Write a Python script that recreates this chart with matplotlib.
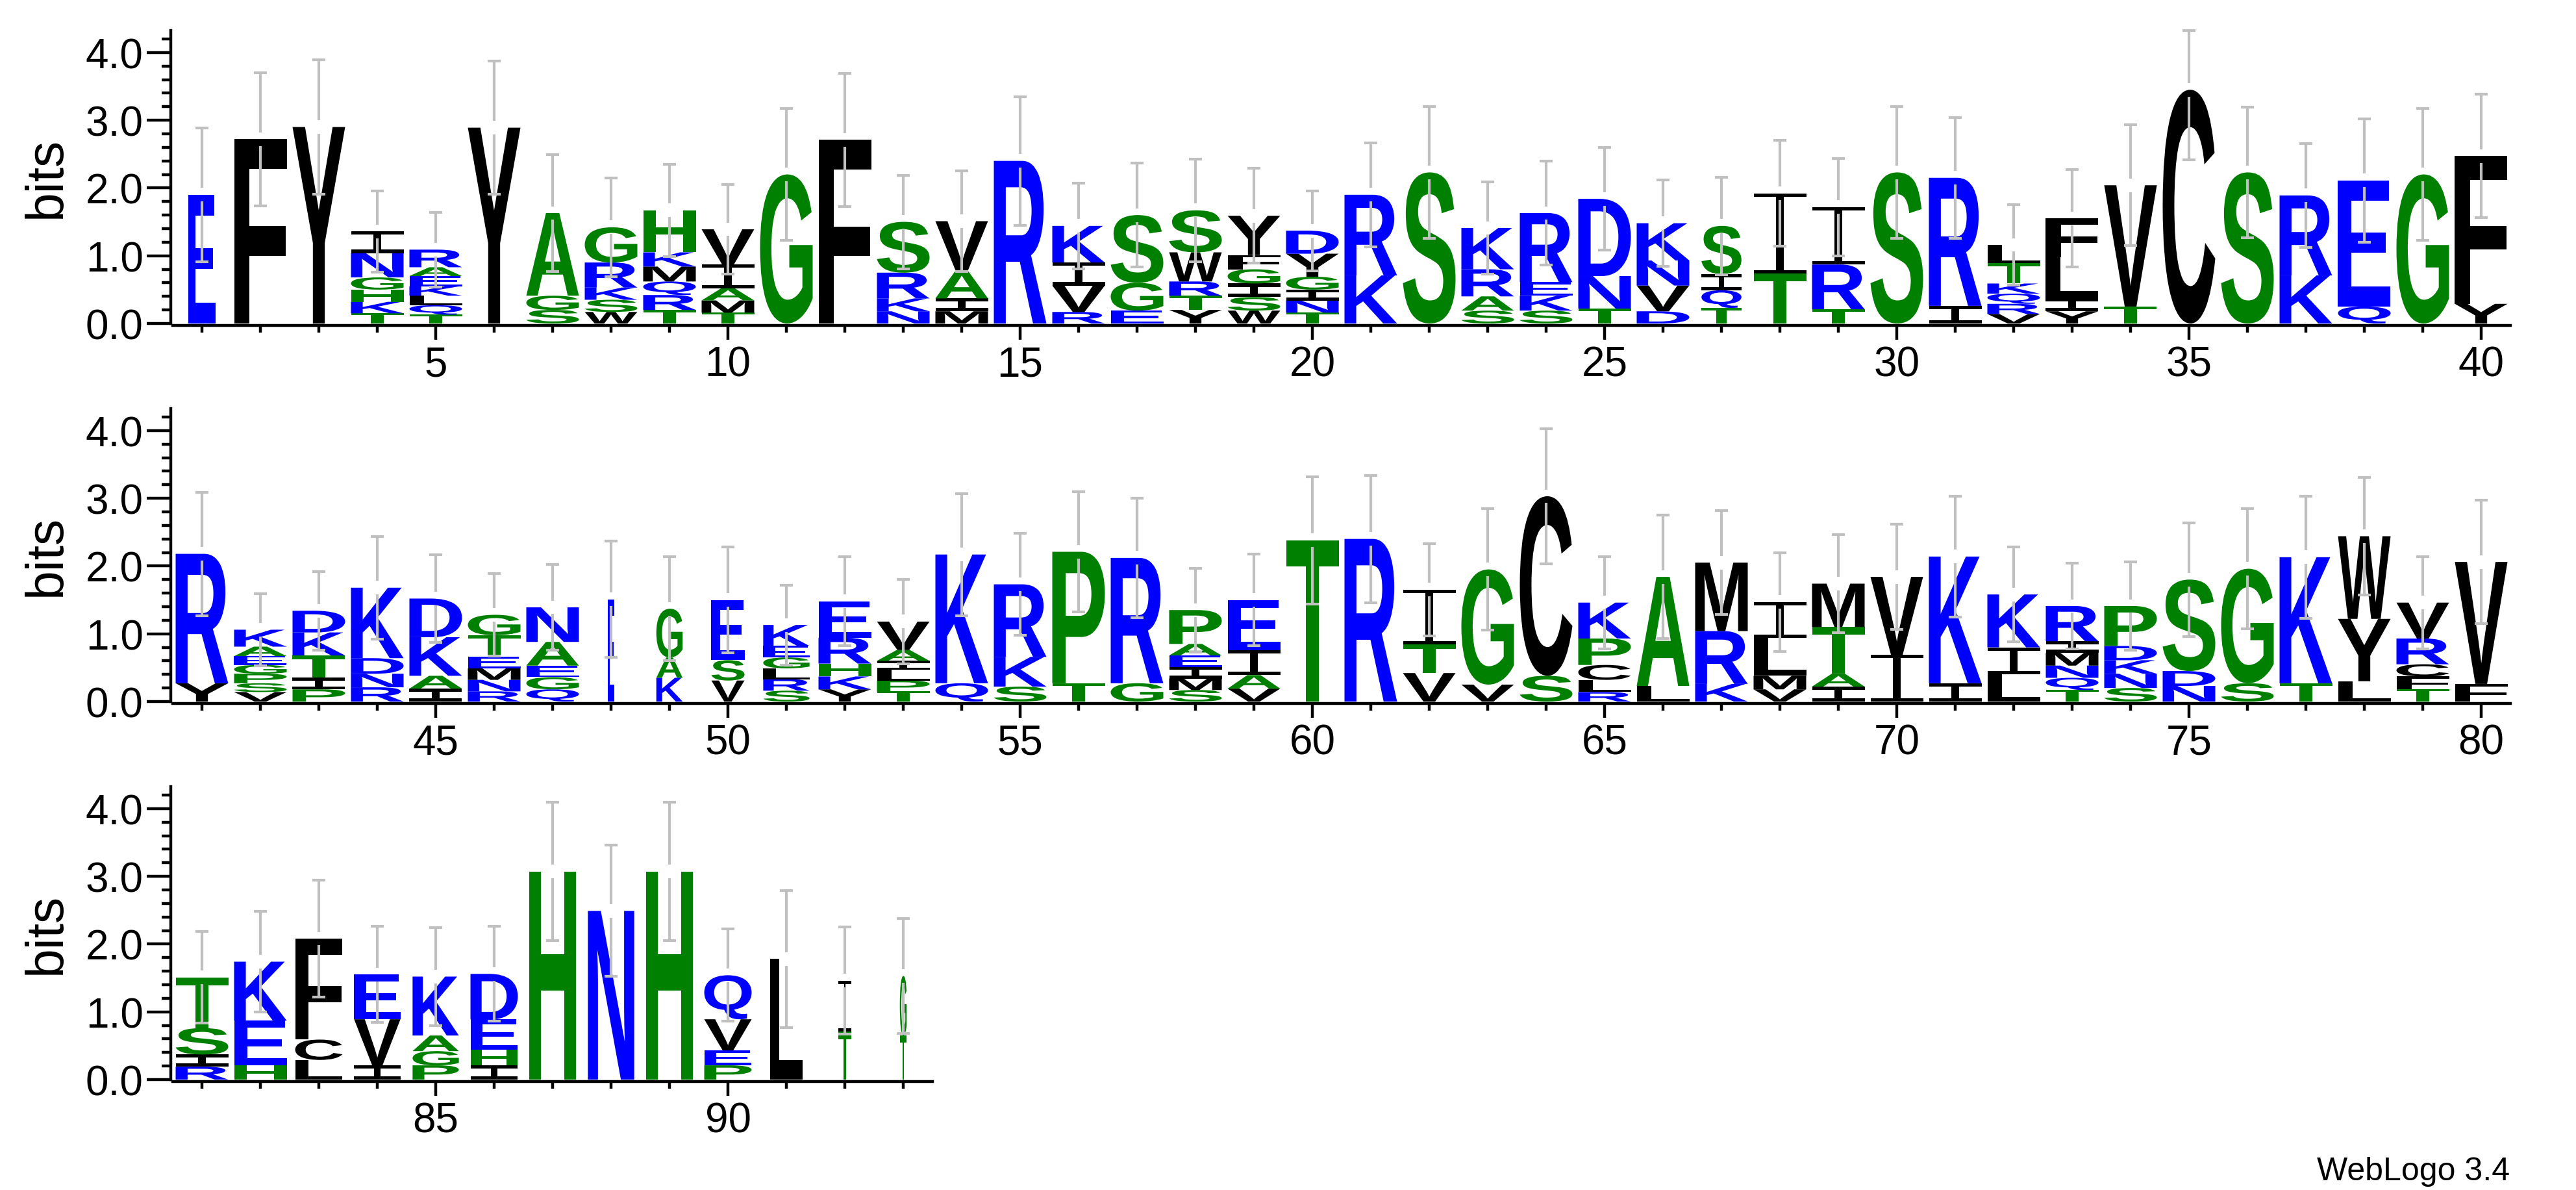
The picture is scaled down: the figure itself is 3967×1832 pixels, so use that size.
import numpy as np
import matplotlib
matplotlib.use("Agg")
import matplotlib.pyplot as plt
from matplotlib.textpath import TextPath
from matplotlib.font_manager import FontProperties
from matplotlib.patches import PathPatch
from matplotlib.path import Path
from matplotlib.transforms import Affine2D

plt.rcParams['font.family'] = ['Liberation Sans', 'DejaVu Sans']

# letters of each stack, bottom to top (positions 1..93)
letters = [
    "E", "F", "Y", "TKHGNI", "TQLKEAR", "Y", "SGA", "WSKRG", "TRQMKH", "TMAIV",
    "G", "F", "NKRS", "MIAV", "R", "RVIK", "EGS", "YTRWS", "WSIGFY", "TNIGYD",
    "KR", "S", "SARK", "SKER", "TND", "DVNK", "TQIS", "TI", "TRI", "S",
    "IR", "VRQKTL", "YILF", "TV", "C", "S", "KR", "QE", "G", "YF",
    "YR", "VSPGEAK", "PITKD", "RNDK", "IAKD", "RNMETG", "QGEAN", "E", "KAG", "VSE",
    "SRLGEK", "YKHRE", "TPLIAV", "QK", "SKR", "TP", "GR", "SMIEAP", "VAIE", "T",
    "R", "VTI", "VG", "SC", "RLCPK", "LA", "KRM", "VMLI", "IATM", "IV",
    "IK", "LIK", "TQNMIR", "SNKDP", "NDS", "SG", "TK", "LYW", "TFCRV", "FV",
    "RIST", "HEK", "LCF", "IVE", "PGAK", "IHED", "H", "N", "H", "PEVQ",
    "L", "TI", "TG",
]

# bits for each letter, same order
heights = [
    [1.90], [2.72], [2.90], [.15, .17, .18, .18, .36, .32],
    [.13, .14, .14, .14, .15, .13, .26], [2.89], [.20, .21, 1.22],
    [.17, .18, .18, .37, .52], [.20, .22, .20, .22, .21, .62],
    [.16, .18, .18, .35, .52],
    [2.20], [2.71], [.18, .19, .38, .75], [.18, .19, .40, .74], [2.40],
    [.17, .39, .34, .54], [.19, .41, 1.00], [.20, .21, .21, .43, .62],
    [.19, .20, .20, .21, .21, .58], [.16, .18, .16, .19, .34, .34],
    [.71, 1.19], [2.23], [.19, .21, .40, .61], [.19, .22, .20, 1.02],
    [.22, .48, 1.14], [.18, .38, .37, .55], [.23, .26, .24, .71], [.74, 1.18],
    [.21, .66, .85], [2.23],
    [.26, 1.89], [.14, .15, .15, .15, .30, .27], [.18, .20, .60, .57],
    [.25, 1.79], [3.45], [2.23], [.71, 1.18], [.25, 1.86], [2.20], [.29, 2.18],
    [.27, 1.91], [.14, .13, .14, .13, .13, .14, .25], [.18, .17, .33, .34, .32],
    [.21, .20, .23, 1.04], [.19, .19, .57, .57], [.15, .17, .17, .17, .32, .30],
    [.18, .18, .17, .35, .51], [1.51], [.35, .30, .72], [.31, .30, .89],
    [.16, .17, .16, .16, .17, .31], [.18, .19, .19, .38, .54],
    [.15, .16, .16, .13, .16, .42], [.27, 1.90], [.22, .44, 1.07], [.27, 1.94],
    [.27, 1.85], [.17, .17, .17, .17, .17, .50], [.19, .20, .37, .74], [2.38],
    [2.40], [.42, .42, .81], [.25, 1.70], [.38, 2.65], [.14, .18, .22, .39, .53],
    [.23, 1.61], [.26, .78, 1.01], [.18, .20, .56, .53], [.22, .19, .69, .64],
    [.69, 1.15],
    [.27, 1.87], [.40, .40, .78], [.17, .18, .18, .19, .17, .52],
    [.20, .21, .20, .21, .59], [.23, .22, 1.35], [.27, 1.69], [.27, 1.86],
    [.30, .92, 1.22], [.18, .19, .18, .38, .53], [.26, 1.80],
    [.19, .18, .39, .75], [.21, .66, .87], [.29, .30, 1.49], [.21, .68, .66],
    [.21, .21, .23, .87], [.21, .23, .45, .67], [3.07], [2.49], [3.07],
    [.21, .22, .46, .65], [1.78], [.71, .75], [.65, .88],
]

# stack width as fraction of a full column
widths = [1.0] * 93
for p, w in {1: .51, 27: .76, 48: .12, 49: .50, 50: .63, 51: .88,
             83: .90, 84: .88, 85: .88, 86: .90, 87: .88, 88: .88, 89: .88,
             90: .90, 91: .62, 92: .25, 93: .13}.items():
    widths[p - 1] = w

# error bar half lengths
errors = [
    .99, .98, .99, .60, .55, .98, .86, .73, .68, .66,
    .97, .98, .69, .74, .95, .63, .77, .76, .70, .59,
    .77, .97, .68, .77, .76, .64, .72, .78, .72, .97,
    .89, .59, .72, .89, 1.03, .96, .77, .91, .97, .91,
    .91, .53, .58, .76, .65, .61, .63, .86, .77, .78,
    .59, .66, .62, .90, .75, .89, .88, .62, .68, .94,
    .94, .68, .90, 1.00, .68, .91, .77, .73, .72, .78,
    .89, .70, .63, .65, .84, .89, .90, .87, .68, .91,
    .68, .74, .86, .71, .72, .70, 1.02, .97, 1.02, .68,
    1.01, .79, .85,
]

rows = [(1, 40), (41, 80), (81, 93)]

blue = set("RKDENQ")
green = set("SGHTAP")
YMAX = np.log2(20)

W, H = 3967, 1833
fig = plt.figure(figsize=(W / 100, H / 100), dpi=100)

fp = FontProperties(family='Liberation Sans', weight='bold')
glyphs = {}


def glyph(c):
    if c not in glyphs:
        p = TextPath((0, 0), c, size=1, prop=fp)
        e = p.get_extents()
        p = p.transformed(Affine2D().translate(-e.x0, -e.y0).scale(1 / e.width, 1 / e.height))
        glyphs[c] = p
    return glyphs[c]


def letter_I(h):
    t = min(0.25, 0.05 / h)
    s = 0.07
    v = [(0, 0), (1, 0), (1, t), (.5 + s, t), (.5 + s, 1 - t), (1, 1 - t), (1, 1),
         (0, 1), (0, 1 - t), (.5 - s, 1 - t), (.5 - s, t), (0, t), (0, 0)]
    codes = [Path.MOVETO] + [Path.LINETO] * 11 + [Path.CLOSEPOLY]
    return Path(v, codes)


def color(c):
    if c in blue:
        return '#0000ff'
    if c in green:
        return '#008000'
    return '#000000'


px_bit = 104.3
bottoms = [1334, 752, 170]
for (start, end), b in zip(rows, bottoms):
    ax = fig.add_axes([266 / W, b / H, (end - start + 1) * 90 / W, YMAX * px_bit / H])
    ax.set_xlim(start - 0.5, end + 0.5)
    ax.set_ylim(0, YMAX)

    for pos in range(start, end + 1):
        i = pos - 1
        w = 0.9 * widths[i]
        y0 = 0.0
        for c, h in zip(letters[i], heights[i]):
            base = letter_I(h) if c == 'I' else glyph(c)
            tr = Affine2D().scale(w, h).translate(pos - w / 2, y0)
            ax.add_patch(PathPatch(base.transformed(tr), facecolor=color(c),
                                   edgecolor='none', zorder=2))
            y0 += h
        top = y0
        lo = max(top - errors[i], 0)
        hi = min(top + errors[i], YMAX)
        kw = dict(color='#c0c0c0', lw=3, solid_capstyle='butt', zorder=3, clip_on=False)
        ax.plot([pos, pos], [top + 0.1, hi], **kw)
        ax.plot([pos, pos], [lo, top - 0.1], **kw)
        ax.plot([pos - 0.115, pos + 0.115], [hi, hi], **kw)
        ax.plot([pos - 0.115, pos + 0.115], [lo, lo], **kw)

    for s in ['top', 'right']:
        ax.spines[s].set_visible(False)
    for s in ['left', 'bottom']:
        ax.spines[s].set_linewidth(3.2)
        ax.spines[s].set_position(('outward', 2))

    ax.set_xticks([p for p in range(start, end + 1) if p % 5 == 0])
    ax.set_xticks(range(start, end + 1), minor=True)
    ax.set_yticks([0, 1, 2, 3, 4])
    ax.set_yticklabels(['0.0', '1.0', '2.0', '3.0', '4.0'])
    ax.set_yticks(np.arange(0, 4.3, 0.2), minor=True)
    ax.tick_params(axis='x', which='major', length=16, width=3.2, pad=6, labelsize=46)
    ax.tick_params(axis='x', which='minor', length=8, width=3.2)
    ax.tick_params(axis='y', which='major', length=27, width=3.2, pad=3.6, labelsize=46)
    ax.tick_params(axis='y', which='minor', length=10, width=3.2)

    fig.text(72 / W, (b + YMAX * px_bit / 2) / H, 'bits', rotation=90,
             ha='center', va='center', fontsize=58)

fig.text(3865 / W, (H - 1817) / H, 'WebLogo 3.4', ha='right', va='baseline', fontsize=36)

fig.savefig('out.png', dpi=100)
